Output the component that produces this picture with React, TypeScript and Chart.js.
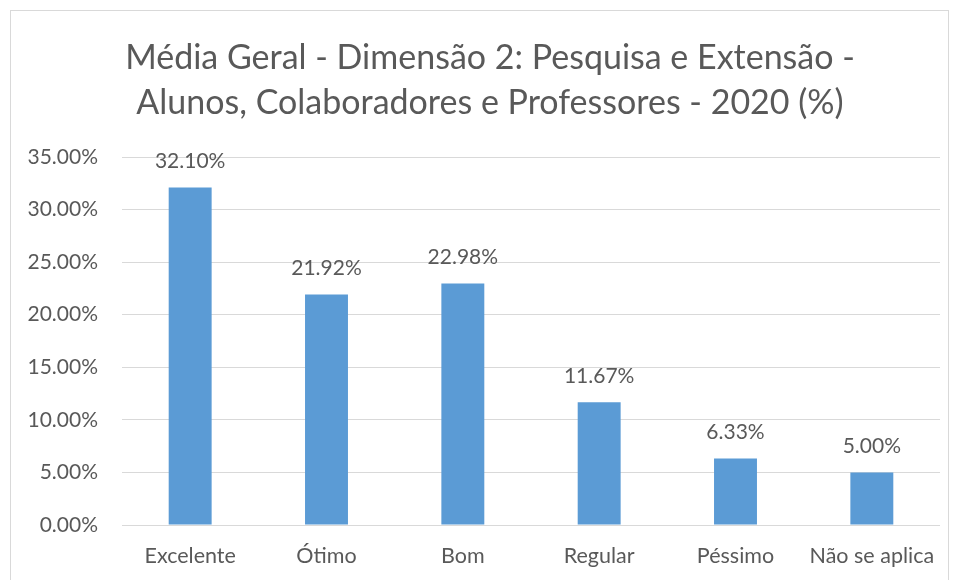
import React, { useEffect, useRef } from "react";
import { Chart, registerables } from "chart.js";

Chart.register(...registerables);

const titleLines = [
  "Média Geral - Dimensão 2: Pesquisa e Extensão -",
  "Alunos, Colaboradores e Professores - 2020 (%)",
];
const categories = ["Excelente", "Ótimo", "Bom", "Regular", "Péssimo", "Não se aplica"];
const values = [32.1, 21.92, 22.98, 11.67, 6.33, 5.0];
const yMin = 0;
const yMax = 35;
const yStep = 5;

const TEXT = "#595959";
const FONT = "Lato, 'Open Sans', sans-serif";

const dataLabels = {
  id: "dataLabels",
  afterDatasetsDraw(chart: any) {
    const ctx = chart.ctx;
    const meta = chart.getDatasetMeta(0);
    ctx.save();
    ctx.fillStyle = TEXT;
    ctx.font = `21px ${FONT}`;
    ctx.textAlign = "center";
    ctx.textBaseline = "middle";
    meta.data.forEach((bar: any, i: number) => {
      const v = chart.data.datasets[0].data[i] as number;
      ctx.fillText(v.toFixed(2) + "%", bar.x, bar.y - 26);
    });
    ctx.restore();
  },
};

const titlePlugin = {
  id: "twoLineTitle",
  afterDraw(chart: any) {
    const ctx = chart.ctx;
    ctx.save();
    ctx.fillStyle = TEXT;
    ctx.font = `34px ${FONT}`;
    ctx.textAlign = "center";
    ctx.textBaseline = "middle";
    titleLines.forEach((line, i) => {
      ctx.fillText(line, 490, 58 + i * 45);
    });
    ctx.restore();
  },
};

export default function App() {
  const ref = useRef<HTMLCanvasElement | null>(null);
  useEffect(() => {
    if (!ref.current) return;
    const chart = new Chart(ref.current, {
      type: "bar",
      data: {
        labels: categories,
        datasets: [
          {
            data: values,
            backgroundColor: "#5B9BD5",
            borderWidth: 0,
            categoryPercentage: 1,
            barPercentage: 0.315,
          },
        ],
      },
      options: {
        responsive: false,
        animation: false,
        layout: { padding: { left: 12, right: 17, top: 157, bottom: 0 } },
        plugins: {
          legend: { display: false },
          tooltip: { enabled: false },
          title: { display: false },
        },
        scales: {
          x: {
            grid: { display: false, drawTicks: false },
            border: { display: false },
            ticks: {
              color: TEXT,
              font: { family: FONT, size: 21.5 },
              padding: 18,
              maxRotation: 0,
              autoSkip: false,
            },
            afterFit: (s: any) => {
              s.height = 55;
            },
          },
          y: {
            min: yMin,
            max: yMax,
            grid: { color: "#d9d9d9", lineWidth: 1, drawTicks: false },
            border: { display: false },
            ticks: {
              stepSize: yStep,
              color: TEXT,
              font: { family: FONT, size: 21 },
              padding: 24,
              callback: (v: any) => Number(v).toFixed(2) + "%",
            },
            afterFit: (s: any) => {
              s.width = 110;
            },
          },
        },
      },
      plugins: [dataLabels, titlePlugin],
    });
    return () => chart.destroy();
  }, []);

  return (
    <div
      style={{
        position: "fixed",
        left: 0,
        top: 0,
        width: 957,
        height: 580,
        background: "#fff",
        overflow: "hidden",
      }}
    >
      <div
        style={{
          position: "absolute",
          left: 10,
          top: 10,
          width: 939,
          height: 620,
          border: "1px solid #d9d9d9",
          boxSizing: "border-box",
        }}
      />
      <canvas
        ref={ref}
        width={957}
        height={580}
        style={{ position: "absolute", left: 0, top: 0 }}
      />
    </div>
  );
}
